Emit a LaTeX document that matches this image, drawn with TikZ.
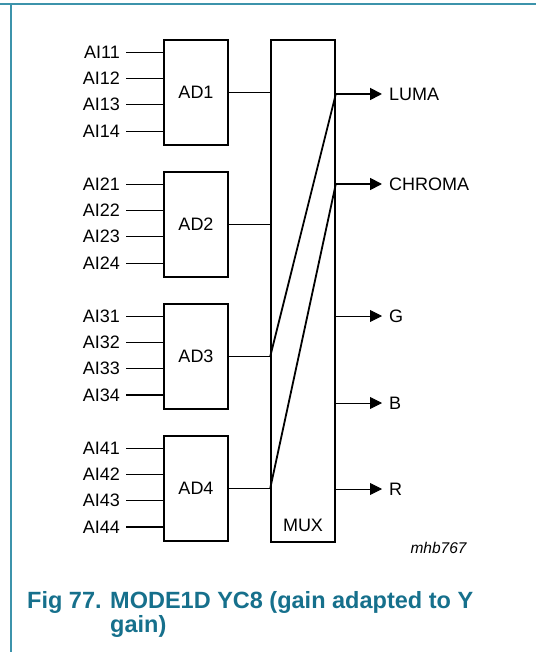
\documentclass[tikz,border=0pt]{standalone}
\usepackage{fontspec}
\setmainfont{Liberation Sans}
\usetikzlibrary{arrows.meta}
\definecolor{framecol}{RGB}{60,147,171}
\definecolor{capcol}{RGB}{22,112,140}
\begin{document}
\begin{tikzpicture}[x=1pt,y=-1pt,
  lbl/.style={font=\fontsize{18}{20}\selectfont},
  adbox/.style={draw,line width=1.6pt,minimum width=64pt,minimum height=105pt,inner sep=0pt,lbl},
  inlab/.style={anchor=east,inner xsep=6pt,inner ysep=0pt,lbl},
  outlab/.style={anchor=west,inner sep=0pt,lbl},
  thinw/.style={line width=0.9pt},
  thickw/.style={line width=1.8pt},
  tri/.style={-{Triangle[length=12pt,width=12pt]},shorten >=7pt}
]
\useasboundingbox (0,0) rectangle (536,652);
% frame
\draw[framecol,line width=1.5pt] (0,4) -- (536,4);
\draw[framecol,line width=1.5pt] (11,4) -- (11,652);
% AD boxes
\foreach \b in {1,...,4}{
  \node[adbox] (ad\b) at (196,{92.5+132*(\b-1)}) {AD\b};
  \foreach \i/\dy in {1/-40.5,2/-14.5,3/12,4/38.5}{
    \node[inlab] (ai\b\i) at (126,{92.5+132*(\b-1)+\dy}) {AI\b\i};
    \draw[thinw] (ai\b\i.east) -- (ad\b.west |- ai\b\i.east);
  }
}
\draw[thickw] (ai34.east) -- (ad3.west |- ai34.east);
\draw[thickw] (ai44.east) -- (ad4.west |- ai44.east);
% MUX
\node[draw,line width=1.6pt,minimum width=64pt,minimum height=502pt,inner sep=0pt] (mux) at (303,291) {};
\node[lbl] (muxlab) at (303,525) {MUX};
% outputs
\node[outlab] (luma) at (389,94) {LUMA};
\node[outlab] (chroma) at (389,184) {CHROMA};
\node[outlab] (g) at (389,316) {G};
\node[outlab] (bb) at (389,403) {B};
\node[outlab] (r) at (389,489) {R};
% AD to MUX
\draw[thinw] (ad1.east) -- (mux.west |- ad1.east);
\draw[thinw] (ad2.east) -- (mux.west |- ad2.east);
\draw[thickw] (ad3.east) -- (mux.west |- ad3.east);
\draw[thickw] (ad4.east) -- (mux.west |- ad4.east);
\draw[thickw] (mux.west |- ad3.east) -- (mux.east |- luma.west);
\draw[thickw] (mux.west |- ad4.east) -- (mux.east |- chroma.west);
% arrows
\draw[thickw,tri] (mux.east |- luma.west) -- (luma.west);
\draw[thickw,tri] (mux.east |- chroma.west) -- (chroma.west);
\draw[thinw,tri] (mux.east |- g.west) -- (g.west);
\draw[thinw,tri] (mux.east |- bb.west) -- (bb.west);
\draw[thinw,tri] (mux.east |- r.west) -- (r.west);
% code
\node[font=\itshape\fontsize{15.5}{17}\selectfont] (code) at (438.5,548) {mhb767};
% caption
\node[anchor=base west,align=left,inner sep=0pt,text=capcol,font=\bfseries\fontsize{23.5}{24}\selectfont] (caption) at (27,632) {\makebox[83pt][l]{Fig 77.}MODE1D YC8 (gain adapted to Y\\\hspace*{83pt}gain)};
\end{tikzpicture}
\end{document}
